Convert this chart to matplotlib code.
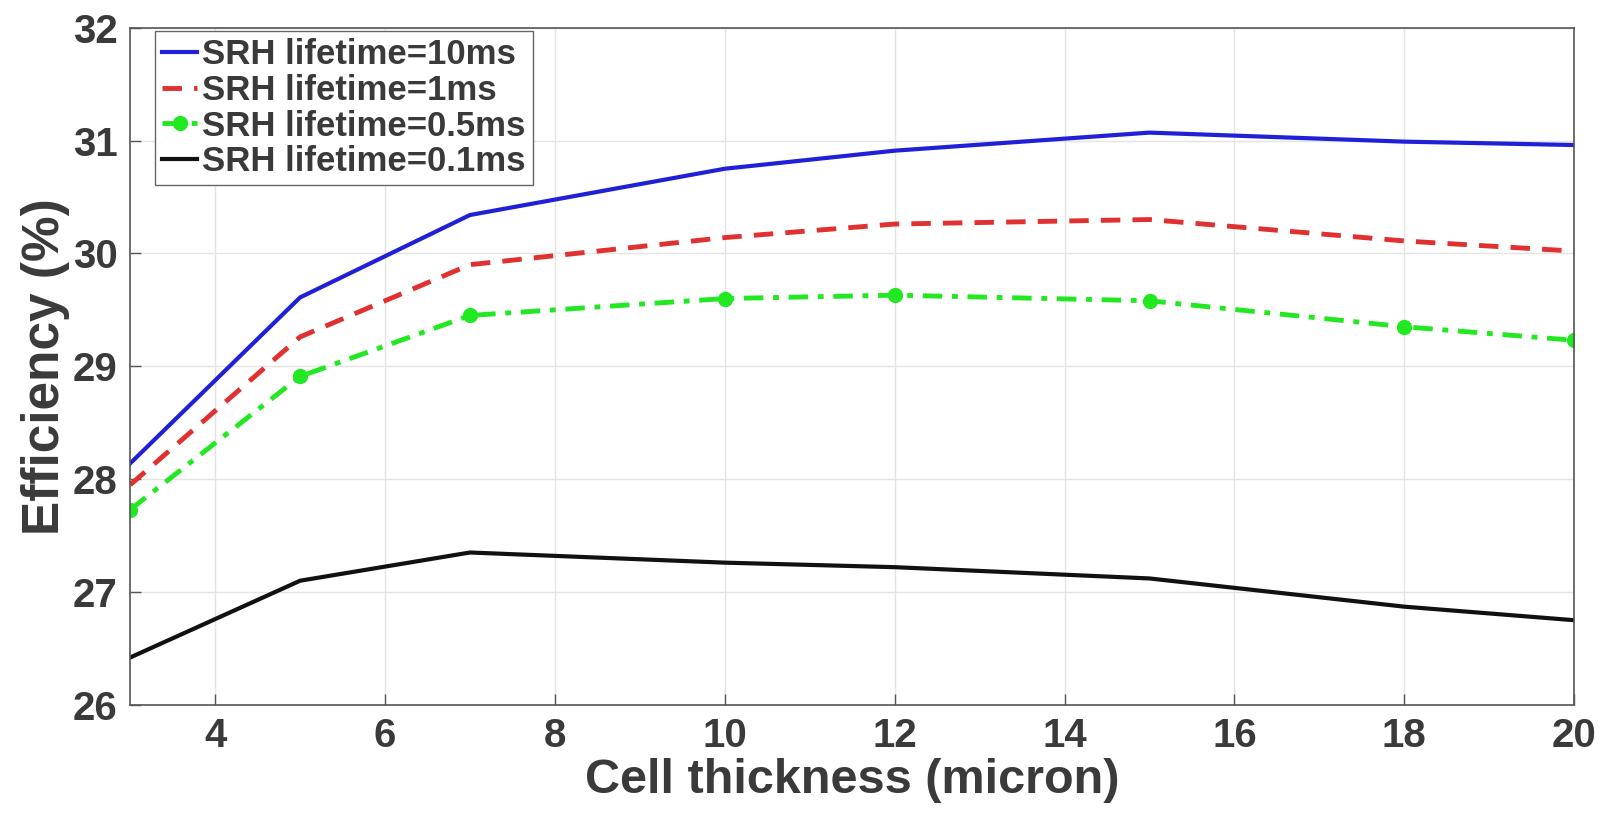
import numpy as np
import matplotlib.pyplot as plt

plt.rcParams['font.family'] = ['Liberation Sans', 'DejaVu Sans']

# Data
thickness = [3, 5, 7, 10, 12, 15, 18, 20]
eff_10ms = [28.14, 29.61, 30.34, 30.75, 30.91, 31.07, 30.99, 30.96]
eff_1ms = [27.95, 29.26, 29.90, 30.14, 30.26, 30.30, 30.11, 30.02]
eff_05ms = [27.73, 28.91, 29.45, 29.60, 29.63, 29.58, 29.35, 29.23]
eff_01ms = [26.42, 27.10, 27.35, 27.26, 27.22, 27.12, 26.87, 26.75]

labels = ["SRH lifetime=10ms", "SRH lifetime=1ms",
          "SRH lifetime=0.5ms", "SRH lifetime=0.1ms"]

text_col = "#3a3a3a"

fig = plt.figure(figsize=(16.08, 8.13), dpi=100)
ax = fig.add_axes([0.081, 0.133, 0.898, 0.833])

ax.plot(thickness, eff_10ms, color="#2020d8", lw=3, label=labels[0])
ax.plot(thickness, eff_1ms, color="#e03030", lw=3.5, ls=(0, (4, 2.5)), label=labels[1])
ax.plot(thickness, eff_05ms, color="#22e822", lw=3.5, ls=(0, (4, 2, 1.2, 2)),
        marker="o", ms=10, mfc="#22e822", mec="#22e822", label=labels[2])
ax.plot(thickness, eff_01ms, color="#111111", lw=3, label=labels[3])

ax.set_xlim(3, 20)
ax.set_ylim(26, 32)
ax.set_xticks([4, 6, 8, 10, 12, 14, 16, 18, 20])
ax.set_yticks([26, 27, 28, 29, 30, 31, 32])
ax.grid(True, color="#e4e4e4", lw=1)
ax.set_axisbelow(True)
ax.tick_params(direction="in", length=8, width=1, color="#555555",
               labelsize=29, labelcolor=text_col, pad=9)
for lbl in ax.get_xticklabels() + ax.get_yticklabels():
    lbl.set_fontweight("bold")
for s in ax.spines.values():
    s.set_color("#555555")
    s.set_linewidth(1.2)

ax.set_xlabel("Cell thickness (micron)", fontsize=35, fontweight="bold",
              color=text_col, labelpad=2)
ax.set_ylabel("Efficiency (%)", fontsize=37, fontweight="bold",
              color=text_col, labelpad=2)

leg = ax.legend(loc="upper left", prop={"weight": "bold", "size": 25},
                handlelength=1.0, handletextpad=0.15, labelspacing=0.08,
                borderpad=0.2, borderaxespad=0.1, fancybox=False, framealpha=1,
                bbox_to_anchor=(0.015, 1.0))
leg.get_frame().set_edgecolor("#666666")
for t in leg.get_texts():
    t.set_color(text_col)

fig.savefig("out.png", dpi=100)
